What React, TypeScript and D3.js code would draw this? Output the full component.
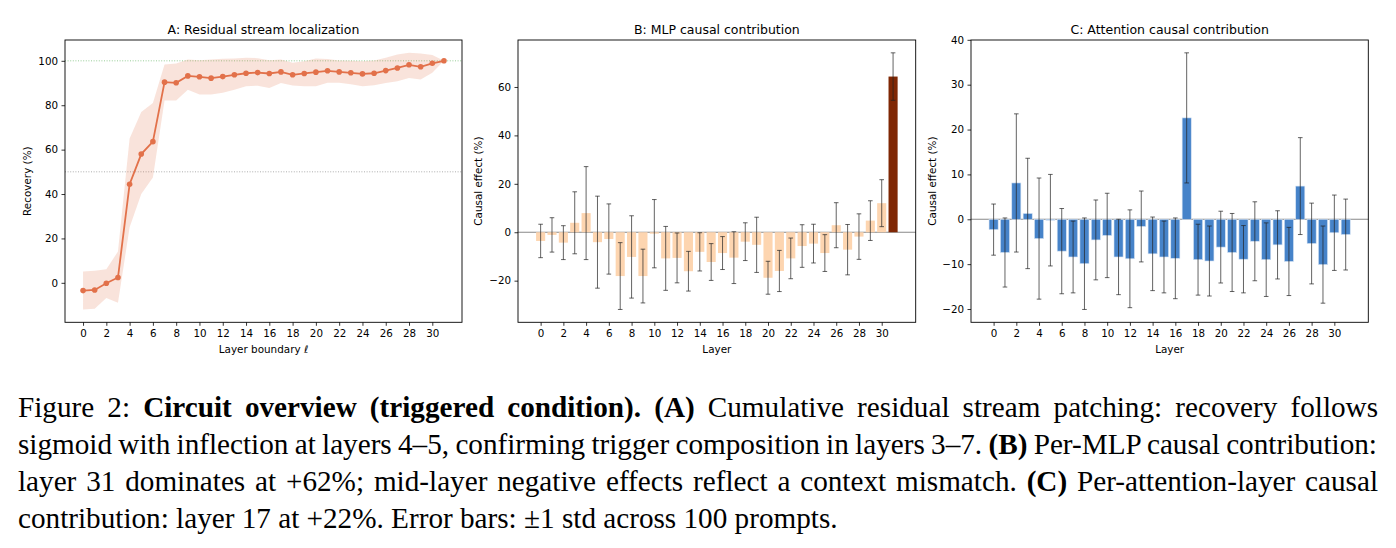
import React, { useRef, useEffect, useMemo } from 'react';
import * as d3 from 'd3';

// Layer indices shared by all three panels
const layers = d3.range(32);
const xTicks = d3.range(0, 31, 2);

// A: cumulative residual patching recovery (mean and ±1 std band)
const recovery = [-3.5, -3.2, -0.2, 2.4, 44.4, 58, 63.6, 90.4, 90.1, 93.2, 92.8, 92.2, 92.9, 93.7, 94.4, 94.7,
  94.3, 95, 93.7, 94.3, 94.9, 95.5, 95, 94.6, 94.1, 94.4, 95.6, 96.8, 98.2, 97.3, 98.9, 100];
const recoveryLow = [-12, -11.7, -6.8, -9, 25, 40, 47.5, 82.1, 82.1, 87, 84.8, 84.8, 85.6, 87, 88.6, 88.8,
  87.8, 90, 88.9, 88.6, 88.6, 90.1, 90.1, 89.5, 88.6, 89, 90, 90.8, 92.3, 91.6, 94.6, 100];
const recoveryHigh = [5.1, 5.4, 6.1, 14.1, 65, 77, 81, 98.3, 98.8, 100.6, 100.3, 100.6, 100.9, 101, 101.4, 101.2,
  100.3, 100.6, 99.1, 99.8, 101, 100.8, 100.2, 100, 99.8, 100.2, 101.4, 102.9, 103.6, 103.3, 102.6, 100];
const recoveryTicks = [0, 20, 40, 60, 80, 100];
const recoveryRefs = [100, 50];

// B: per-MLP causal effect
const mlpEffect = [-3.6, -1.1, -4.3, 3.9, 7.9, -4.1, -2.8, -18.1, -10.2, -18.1, -0.6, -10.8, -10.6, -16.1, -8.1, -12.3,
  -8.6, -10.5, -3.9, -5.2, -18.8, -16, -10.8, -5.7, -4.7, -8.6, 2.9, -7.2, -1.8, 4.8, 12, 64.3];
const mlpStd = [6.9, 7.1, 7, 12.8, 19.2, 19, 14.5, 13.8, 17, 11.1, 14.1, 13.2, 10.3, 8.2, 7.9, 7.6,
  6.8, 10.7, 7.8, 11.4, 6.8, 8.5, 8.4, 8.8, 8, 7.6, 9.3, 10.4, 9.4, 8.2, 9.7, 9.8];
const mlpTicks = [-20, 0, 20, 40, 60];

// C: per-attention-layer causal effect
const attnEffect = [-2.3, -7.4, 8.1, 1.3, -4.3, -0.2, -7.1, -8.4, -9.9, -4.6, -3.6, -8.4, -8.8, -1.6, -7.7, -8.4,
  -8.7, 22.6, -9, -9.3, -6.2, -7.4, -8.9, -4.9, -9, -5.7, -9.4, 7.4, -5.4, -10.1, -3, -3.4];
const attnStd = [5.7, 7.7, 15.4, 12.3, 13.5, 10.2, 9.5, 8, 10.2, 8.9, 9.4, 8.4, 10.9, 7.9, 8.2, 8,
  9, 14.5, 7.9, 7.8, 8, 8.7, 7.5, 8.8, 8.2, 7.6, 7.6, 10.8, 9, 8.6, 8.4, 7.9];
const attnTicks = [-20, -10, 0, 10, 20, 30, 40];

const captionLines = [
  [['Figure 2: ', false], ['Circuit overview (triggered condition).', true], [' ', false], ['(A)', true],
    [' Cumulative residual stream patching: recovery follows', false]],
  [['sigmoid with inflection at layers 4–5, confirming trigger composition in layers 3–7. ', false], ['(B)', true],
    [' Per-MLP causal contribution:', false]],
  [['layer 31 dominates at +62%; mid-layer negative effects reflect a context mismatch. ', false], ['(C)', true],
    [' Per-attention-layer causal', false]],
  [['contribution: layer 17 at +22%. Error bars: ±1 std across 100 prompts.', false]],
];

const FONT = '"DejaVu Sans", sans-serif';
const SERIF = '"Liberation Serif", serif';
const TOP = 40;
const BOTTOM = 322.3;

// matplotlib-style 5% padding around the data extent
const padded = (lo, hi) => {
  const m = (hi - lo) * 0.05;
  return [lo - m, hi + m];
};

function drawAxes(g, x, y, yTicks, title, xLabel, yLabel, yLabelX) {
  const [x0, x1] = x.range();
  const fmt = d3.format('d');
  const style = (sel) => {
    sel.select('.domain').remove();
    sel.attr('font-family', FONT).attr('font-size', 10.3).attr('color', '#000');
    sel.selectAll('line').attr('stroke-width', 0.8);
  };
  g.append('g')
    .attr('transform', `translate(0,${BOTTOM})`)
    .call(d3.axisBottom(x).tickValues(xTicks).tickFormat(fmt).tickSize(3.5).tickPadding(3.5).tickSizeOuter(0))
    .call(style);
  g.append('g')
    .attr('transform', `translate(${x0},0)`)
    .call(d3.axisLeft(y).tickValues(yTicks).tickFormat(fmt).tickSize(3.5).tickPadding(3.5).tickSizeOuter(0))
    .call(style);

  g.append('rect')
    .attr('x', x0).attr('y', TOP)
    .attr('width', x1 - x0).attr('height', BOTTOM - TOP)
    .attr('fill', 'none').attr('stroke', '#000').attr('stroke-width', 0.9);

  g.append('text')
    .attr('x', (x0 + x1) / 2).attr('y', 34)
    .attr('text-anchor', 'middle')
    .attr('font-family', FONT).attr('font-size', 12.5)
    .text(title);
  g.append('text')
    .attr('x', (x0 + x1) / 2).attr('y', 353)
    .attr('text-anchor', 'middle')
    .attr('font-family', FONT).attr('font-size', 10.4)
    .text(xLabel);
  g.append('text')
    .attr('transform', `translate(${yLabelX},${(TOP + BOTTOM) / 2}) rotate(-90)`)
    .attr('text-anchor', 'middle')
    .attr('dominant-baseline', 'central')
    .attr('font-family', FONT).attr('font-size', 10.4)
    .text(yLabel);
}

function drawBars(g, x, y, values, stds, fill, edge) {
  const bw = x(0.8) - x(0);
  g.append('line')
    .attr('x1', x.range()[0]).attr('x2', x.range()[1])
    .attr('y1', y(0)).attr('y2', y(0))
    .attr('stroke', '#888').attr('stroke-width', 1.1);
  g.append('g').selectAll('rect')
    .data(layers)
    .join('rect')
    .attr('x', (i) => x(i) - bw / 2)
    .attr('width', bw)
    .attr('y', (i) => y(Math.max(0, values[i])))
    .attr('height', (i) => Math.abs(y(values[i]) - y(0)))
    .attr('fill', fill)
    .attr('stroke', edge)
    .attr('stroke-width', edge === 'none' ? 0 : 0.6);
  const err = g.append('g').attr('stroke', '#222').attr('stroke-opacity', 0.7).attr('stroke-width', 1);
  layers.forEach((i) => {
    const top = y(values[i] + stds[i]);
    const bot = y(values[i] - stds[i]);
    err.append('line').attr('x1', x(i)).attr('x2', x(i)).attr('y1', top).attr('y2', bot);
    err.append('line').attr('x1', x(i) - 2.3).attr('x2', x(i) + 2.3).attr('y1', top).attr('y2', top);
    err.append('line').attr('x1', x(i) - 2.3).attr('x2', x(i) + 2.3).attr('y1', bot).attr('y2', bot);
  });
}

const Charts = () => {
  const svgRef = useRef(null);

  useEffect(() => {
    const svg = d3.select(svgRef.current);
    svg.selectAll('g.panel').remove();

    // Panel A: residual stream recovery curve
    {
      const g = svg.append('g').attr('class', 'panel');
      const x = d3.scaleLinear().domain(padded(0, 31)).range([65, 462]);
      const y = d3.scaleLinear().domain(padded(d3.min(recoveryLow), d3.max(recoveryHigh))).range([BOTTOM, TOP]);
      const color = '#e2714a';

      recoveryRefs.forEach((v, k) => {
        g.append('line')
          .attr('x1', 65).attr('x2', 462)
          .attr('y1', y(v)).attr('y2', y(v))
          .attr('stroke', k === 0 ? '#7cc07c' : '#999')
          .attr('stroke-width', 0.8)
          .attr('stroke-dasharray', '1,1.6');
      });

      const band = d3.area()
        .x((i) => x(i))
        .y0((i) => y(recoveryLow[i]))
        .y1((i) => y(recoveryHigh[i]));
      g.append('path').attr('d', band(layers)).attr('fill', color).attr('fill-opacity', 0.2);

      const line = d3.line().x((i) => x(i)).y((i) => y(recovery[i]));
      g.append('path').attr('d', line(layers)).attr('fill', 'none').attr('stroke', color).attr('stroke-width', 1.8);
      g.append('g').selectAll('circle')
        .data(layers)
        .join('circle')
        .attr('cx', (i) => x(i))
        .attr('cy', (i) => y(recovery[i]))
        .attr('r', 2.8)
        .attr('fill', color);

      drawAxes(g, x, y, recoveryTicks, 'A: Residual stream localization', 'Layer boundary ℓ', 'Recovery (%)', 27);
    }

    // Panel B: MLP contributions, final layer highlighted
    {
      const g = svg.append('g').attr('class', 'panel');
      const x = d3.scaleLinear().domain(padded(-0.4, 31.4)).range([518, 915.7]);
      const lo = d3.min(layers, (i) => mlpEffect[i] - mlpStd[i]);
      const hi = d3.max(layers, (i) => mlpEffect[i] + mlpStd[i]);
      const y = d3.scaleLinear().domain(padded(lo, hi)).range([BOTTOM, TOP]);
      drawBars(g, x, y, mlpEffect, mlpStd, (i) => (i === 31 ? '#7f2704' : '#fdd5b0'), 'none');
      drawAxes(g, x, y, mlpTicks, 'B: MLP causal contribution', 'Layer', 'Causal effect (%)', 478.3);
    }

    // Panel C: attention contributions
    {
      const g = svg.append('g').attr('class', 'panel');
      const x = d3.scaleLinear().domain(padded(-0.4, 31.4)).range([971, 1368.3]);
      const lo = d3.min(layers, (i) => attnEffect[i] - attnStd[i]);
      const hi = d3.max(layers, (i) => attnEffect[i] + attnStd[i]);
      const y = d3.scaleLinear().domain(padded(lo, hi)).range([BOTTOM, TOP]);
      drawBars(g, x, y, attnEffect, attnStd, '#4683c9', '#d5e3f4');
      drawAxes(g, x, y, attnTicks, 'C: Attention causal contribution', 'Layer', 'Causal effect (%)', 932);
    }
  }, []);

  return <g ref={svgRef} />;
};

// Justified caption: spaces are widened so each full line spans the text block
const Caption = () => {
  const left = 18;
  const width = 1360;
  const size = 29.2;
  const baselines = [417, 454, 491, 528];

  const spacing = useMemo(() => {
    const ctx = document.createElement('canvas').getContext('2d');
    return captionLines.map((segs, k) => {
      if (k === captionLines.length - 1) return 0;
      let w = 0;
      let spaces = 0;
      segs.forEach(([t, b]) => {
        ctx.font = `${b ? 'bold ' : ''}${size}px "Liberation Serif"`;
        w += ctx.measureText(t).width;
        spaces += (t.match(/ /g) || []).length;
      });
      return (width - w) / spaces;
    });
  }, []);

  return (
    <g fontFamily={SERIF} fontSize={size} fill="#000">
      {captionLines.map((segs, k) => (
        <text key={k} x={left} y={baselines[k]} style={{ wordSpacing: `${spacing[k]}px`, whiteSpace: 'pre' }}>
          {segs.map(([t, b], j) => (
            <tspan key={j} fontWeight={b ? 'bold' : 'normal'}>{t}</tspan>
          ))}
        </text>
      ))}
    </g>
  );
};

export default function App() {
  return (
    <svg width={1396} height={548} style={{ position: 'absolute', left: 0, top: 0, background: '#fff' }}>
      <rect width={1396} height={548} fill="#fff" />
      <Charts />
      <Caption />
    </svg>
  );
}
